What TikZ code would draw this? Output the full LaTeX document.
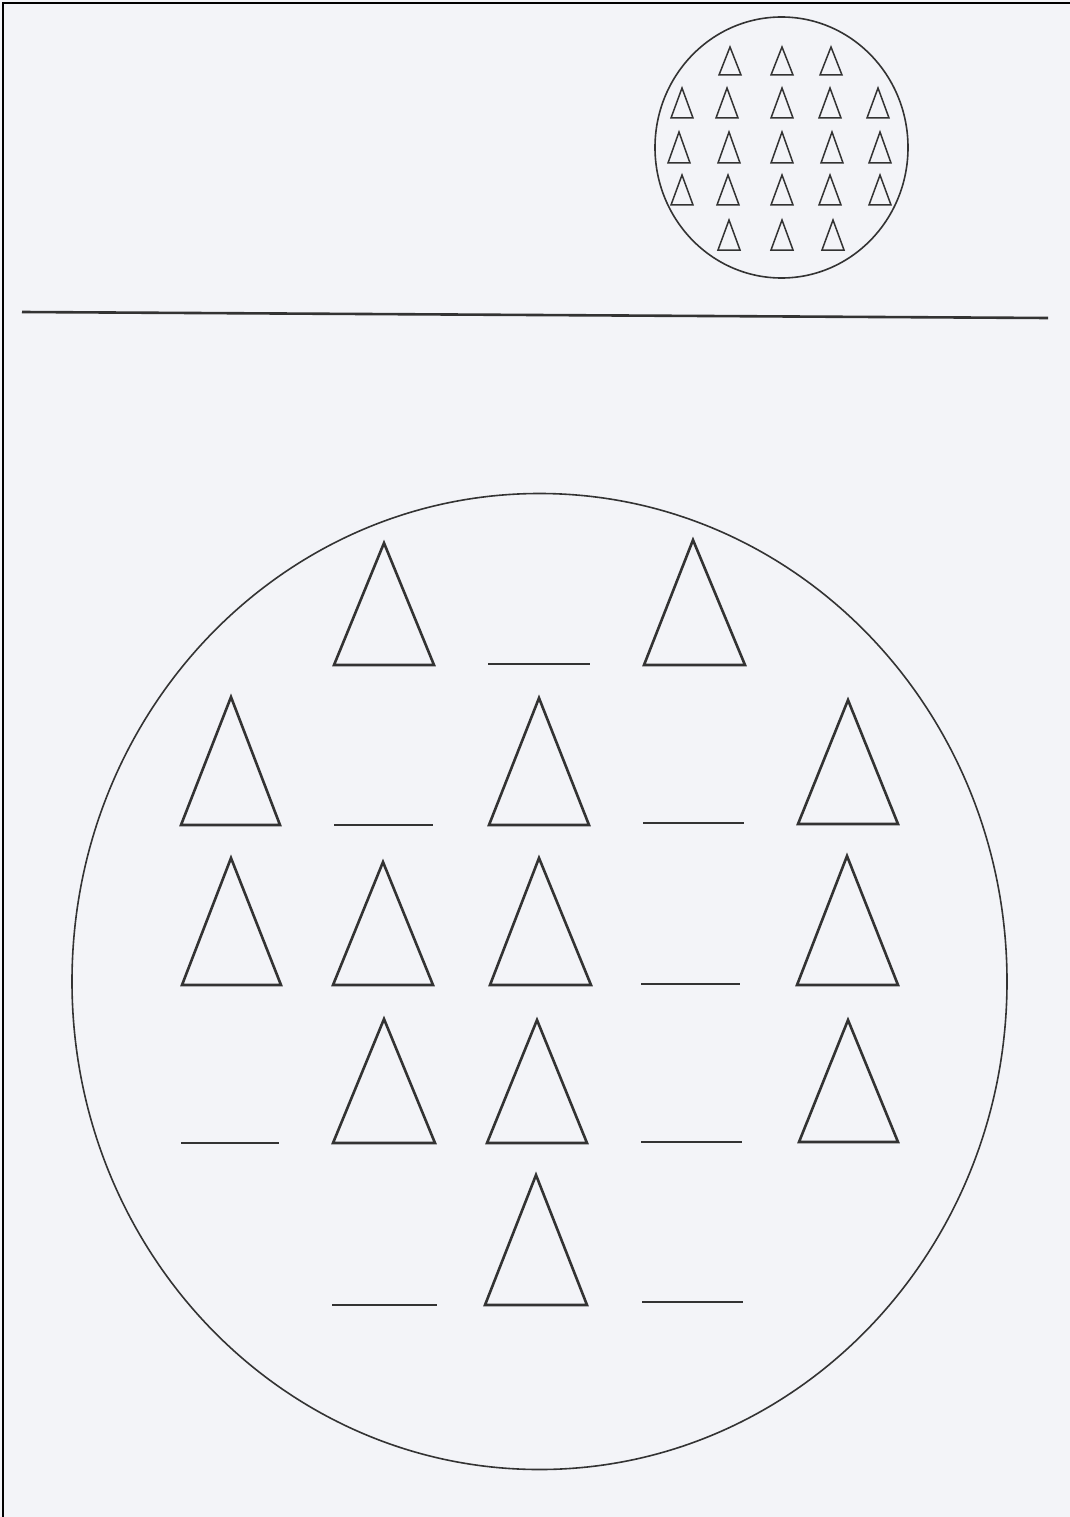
\documentclass[tikz,border=0pt]{standalone}
\begin{document}
\begin{tikzpicture}[x=1pt,y=-1pt,
  ink/.style={draw=black!80, line join=miter},
  bigtri/.style={ink, line width=2.6pt},
  smalltri/.style={ink, line width=1.5pt},
  dashline/.style={ink, line width=2.6pt}]
\useasboundingbox (0,0) rectangle (1070,1517);
\fill[fill={rgb,255:red,243;green,244;blue,248}] (0,0) rectangle (1070,1517);
% frame (top and left)
\draw[black, line width=2.5pt] (3,1517) -- (3,3) -- (1070,3);
% separator line
\coordinate (hl) at (22,312);
\coordinate (hr) at (1048,318);
\draw[ink, line width=2.6pt] (hl) -- (hr);
% small circle
\draw[ink, line width=1.6pt] (781.5,147.5) ellipse [x radius=126.5, y radius=130.5];
% small triangles: row apex y, base y, centers
\foreach \ay/\by/\xs in {47/75/{730,782,831},
                         88/118/{682,727,782,830,878},
                         132/163/{679,729,782,832,880},
                         175/205/{682,728,782,830,880},
                         220/250/{729,782,833}}{
  \foreach \x in \xs {
    \draw[smalltri] (\x,\ay) -- (\x+11,\by) -- (\x-11,\by) -- cycle;
  }
}
% big circle
\draw[ink, line width=1.6pt] (539.5,981.5) ellipse [x radius=467.5, y radius=488];
% big triangles: apex x, apex y, left x, right x, base y
\foreach \ax/\ay/\l/\r/\b in {
  384/543/334/434/665, 693/540/644/745/665,
  231/697/181/280/825, 539/698/489/589/825, 848/700/798/898/824,
  231/858/182/281/985, 383/862/333/433/985, 539/858/490/591/985, 847/856/797/898/985,
  384/1019/333/435/1143, 537/1020/487/587/1143, 848/1020/799/898/1142,
  536/1175/485/587/1305}{
  \draw[bigtri] (\ax,\ay) -- (\r,\b) -- (\l,\b) -- cycle;
}
% blanks
\foreach \l/\r/\y in {488/590/664, 334/433/825, 643/744/823, 641/740/984,
  181/279/1143, 641/742/1142, 332/437/1305, 642/743/1302}{
  \draw[dashline] (\l,\y) -- (\r,\y);
}
\end{tikzpicture}
\end{document}
